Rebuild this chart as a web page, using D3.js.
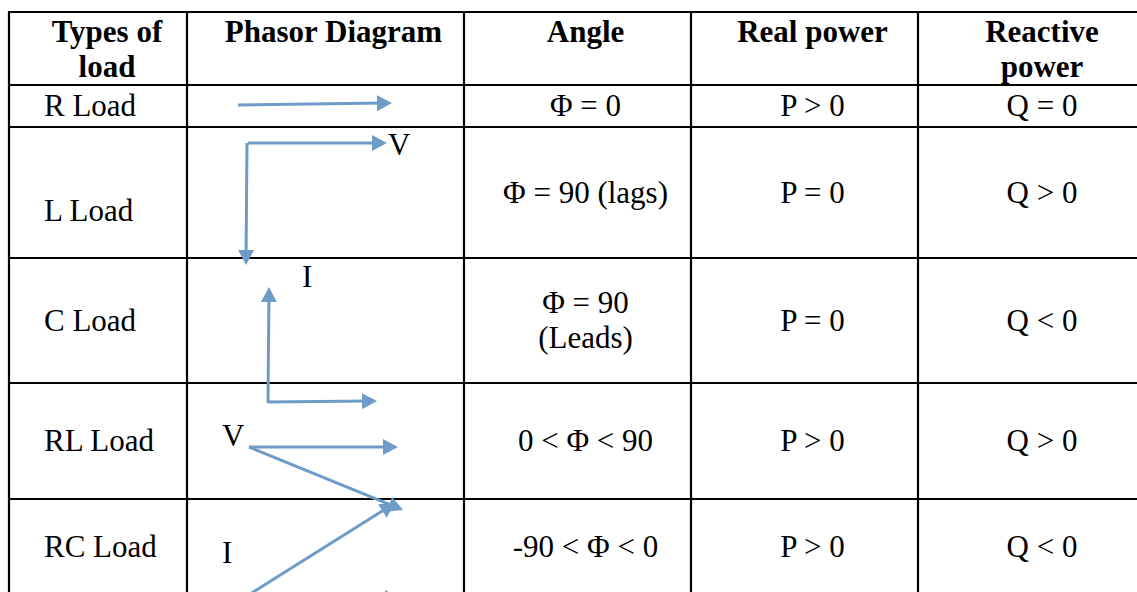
<!DOCTYPE html>
<html lang="en">
<head>
  <meta charset="UTF-8">
  <title>Types of load</title>
  <style>
    body { margin: 0; background: #fff; }
    svg { display: block; }
    text { font-family: "Liberation Serif", "Times New Roman", serif; font-size: 31px; fill: #000; }
    .head { font-weight: bold; }
  </style>
</head>
<body>
  <svg></svg>
  <script src="https://d3js.org/d3.v7.min.js"></script>
  <script>
    // table content
    const headers = [["Types of", "load"], ["Phasor Diagram"], ["Angle"], ["Real power"], ["Reactive", "power"]];
    const loadTypes = ["R Load", "L Load", "C Load", "RL Load", "RC Load"];
    const angles = [["Φ = 0"], ["Φ = 90 (lags)"], ["Φ = 90", "(Leads)"], ["0 < Φ < 90"], ["-90 < Φ < 0"]];
    const realPower = ["P > 0", "P = 0", "P = 0", "P > 0", "P > 0"];
    const reactivePower = ["Q = 0", "Q > 0", "Q < 0", "Q > 0", "Q < 0"];

    // phasors, in diagram units (0..277 across, 0..507 down the body)
    const phasors = [
      { x1: 51, y1: 20, x2: 205, y2: 18 },
      { x1: 61, y1: 58, x2: 200, y2: 58 },
      { x1: 60, y1: 58, x2: 59, y2: 180 },
      { x1: 81, y1: 318, x2: 82, y2: 202 },
      { x1: 81, y1: 317, x2: 190, y2: 316 },
      { x1: 62, y1: 362, x2: 211, y2: 362 },
      { x1: 62, y1: 362, x2: 216, y2: 425 },
      { x1: 63, y1: 509, x2: 208, y2: 418 },
      { x1: 63, y1: 513, x2: 213, y2: 513 }
    ];
    const phasorLabels = [
      { x: 201, y: 70, t: "V" },
      { x: 115, y: 202, t: "I" },
      { x: 35, y: 361, t: "V" },
      { x: 35, y: 478, t: "I" }
    ];

    // layout
    const W = 1137, H = 592;
    const colEdges = [9, 187, 464, 691, 918, 1150];
    const rowEdges = [12, 85, 127, 258, 383, 499, 595];
    const lineGap = 35;
    const textShift = 8;

    const svg = d3.select("svg").attr("width", W).attr("height", H);
    svg.append("rect").attr("width", W).attr("height", H).attr("fill", "#fff");

    const blue = "#6e9cc7";
    svg.append("defs").append("marker")
      .attr("id", "head")
      .attr("viewBox", "0 -8 15 16")
      .attr("refX", 7).attr("refY", 0)
      .attr("markerWidth", 15).attr("markerHeight", 16)
      .attr("markerUnits", "userSpaceOnUse")
      .attr("orient", "auto")
      .append("path").attr("d", "M0,-8L15,0L0,8Z").attr("fill", blue);

    const colMid = i => (colEdges[i] + colEdges[i + 1]) / 2 + textShift;
    const rowMid = i => (rowEdges[i] + rowEdges[i + 1]) / 2;

    function cell(g, lines, x, cy, cls, anchor) {
      const n = lines.length;
      lines.forEach((t, k) => {
        g.append("text")
          .attr("class", cls || null)
          .attr("x", x)
          .attr("y", cy + 9 + (k - (n - 1) / 2) * lineGap)
          .attr("text-anchor", anchor || "middle")
          .text(t);
      });
    }

    const txt = svg.append("g");
    // header cells are top aligned
    headers.forEach((h, i) => {
      h.forEach((t, k) => {
        txt.append("text").attr("class", "head")
          .attr("x", i === 0 ? 107 : colMid(i))
          .attr("y", rowEdges[0] + 30 + k * lineGap)
          .attr("text-anchor", "middle")
          .text(t);
      });
    });

    loadTypes.forEach((name, r) => {
      const ri = r + 1;
      const cy = rowMid(ri);
      // first column sits lower in the tall L row
      const labelY = r === 1 ? rowEdges[ri + 1] - 47 : cy;
      cell(txt, [name], 44, labelY + 1, null, "start");
      cell(txt, angles[r], colMid(2), cy + 1);
      cell(txt, [realPower[r]], colMid(3), cy + 1);
      cell(txt, [reactivePower[r]], colMid(4), cy + 1);
    });

    // grid
    const grid = svg.append("g").attr("stroke", "#000").attr("stroke-width", 2.2);
    grid.selectAll("line.h").data(rowEdges).join("line")
      .attr("x1", colEdges[0] - 1).attr("x2", W + 10)
      .attr("y1", d => d).attr("y2", d => d);
    grid.selectAll("line.v").data(colEdges).join("line")
      .attr("x1", d => d).attr("x2", d => d)
      .attr("y1", rowEdges[0] - 1).attr("y2", H + 10);

    // phasor diagrams
    const px = d3.scaleLinear().domain([0, 277]).range([colEdges[1], colEdges[2]]);
    const py = d3.scaleLinear().domain([0, 507]).range([rowEdges[1], rowEdges[1] + 507]);
    const shorten = 8;

    svg.append("g").selectAll("line").data(phasors).join("line")
      .attr("x1", d => px(d.x1)).attr("y1", d => py(d.y1))
      .attr("x2", d => {
        const dx = px(d.x2) - px(d.x1), dy = py(d.y2) - py(d.y1);
        return px(d.x2) - shorten * dx / Math.hypot(dx, dy);
      })
      .attr("y2", d => {
        const dx = px(d.x2) - px(d.x1), dy = py(d.y2) - py(d.y1);
        return py(d.y2) - shorten * dy / Math.hypot(dx, dy);
      })
      .attr("stroke", blue)
      .attr("stroke-width", 3)
      .attr("marker-end", "url(#head)");

    svg.append("g").selectAll("text").data(phasorLabels).join("text")
      .attr("x", d => px(d.x)).attr("y", d => py(d.y))
      .text(d => d.t);
  </script>
</body>
</html>
